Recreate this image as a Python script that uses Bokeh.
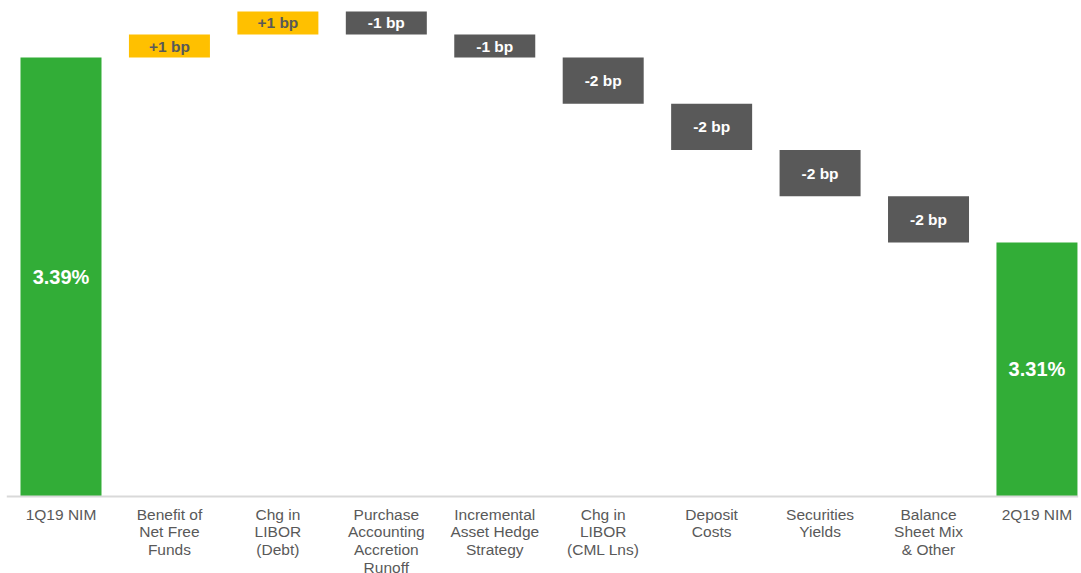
from bokeh.plotting import figure
from bokeh.models import Range1d, ColumnDataSource
from bokeh.core.properties import value
from bokeh.embed import file_html
from bokeh.resources import INLINE

# ---- data ----
categories = ["1Q19 NIM", "Benefit of\nNet Free\nFunds", "Chg in\nLIBOR\n(Debt)",
              "Purchase\nAccounting\nAccretion\nRunoff", "Incremental\nAsset Hedge\nStrategy",
              "Chg in\nLIBOR\n(CML Lns)", "Deposit\nCosts", "Securities\nYields",
              "Balance\nSheet Mix\n& Other", "2Q19 NIM"]
start_nim = 3.39
end_nim = 3.31
changes_bp = [1, 1, -1, -1, -2, -2, -2, -2]
axis_base = 3.20

GREEN = "#32AD37"
YELLOW = "#FFC000"
GRAY = "#595959"

W, H = 1081, 573
base_px = 496
scale = 2310.0  # px per 1 percentage point
step_px = 108.44
first_center_px = 60.5

x0 = -first_center_px / step_px
x1 = x0 + W / step_px
y1 = axis_base + base_px / scale
y0 = axis_base - (H - base_px) / scale

p = figure(width=W, height=H, output_backend="svg", toolbar_location=None,
           x_range=Range1d(x0, x1), y_range=Range1d(y0, y1),
           min_border=0, min_border_left=0, min_border_right=0,
           min_border_top=0, min_border_bottom=0)
p.axis.visible = False
p.grid.visible = False
p.outline_line_color = None
p.background_fill_color = "white"
p.border_fill_color = "white"

# totals
n = len(categories)
bw = 81 / step_px
p.vbar(x=[0, n - 1], bottom=axis_base, top=[start_nim, end_nim], width=bw,
       fill_color=GREEN, line_color=None)

# steps
xs, bots, tops, cols, labs, lab_cols, mids = [], [], [], [], [], [], []
level = start_nim
for i, d in enumerate(changes_bp):
    new = level + d / 100.0
    xs.append(i + 1)
    bots.append(min(level, new))
    tops.append(max(level, new))
    cols.append(YELLOW if d > 0 else GRAY)
    labs.append(("+%d bp" % d) if d > 0 else ("%d bp" % d))
    lab_cols.append(GRAY if d > 0 else "white")
    mids.append((level + new) / 2)
    level = new

src = ColumnDataSource(dict(x=xs, bottom=bots, top=tops, color=cols, lab=labs,
                            lab_color=lab_cols, mid=mids))
p.vbar(x="x", bottom="bottom", top="top", width=bw, fill_color="color",
       line_color=None, source=src)
p.text(x="x", y="mid", text="lab", text_color="lab_color", source=src,
       text_font=value("Liberation Sans"), text_font_style="bold",
       text_font_size="15.5px", text_align="center", text_baseline="middle")

# total labels
p.text(x=[0, n - 1], y=[(axis_base + start_nim) / 2, (axis_base + end_nim) / 2],
       text=["%.2f%%" % start_nim, "%.2f%%" % end_nim], text_color="white",
       text_font=value("Liberation Sans"), text_font_style="bold",
       text_font_size="20px", text_align="center", text_baseline="middle")

# baseline
p.segment(x0=[-0.5], y0=[axis_base], x1=[n - 0.62], y1=[axis_base],
          line_color="#D9D9D9", line_width=2)

# category labels
ycat = axis_base - 9 / scale
p.text(x=list(range(n)), y=[ycat] * n, text=categories, text_color=GRAY,
       text_font=value("Liberation Sans"), text_font_size="15.5px",
       text_align="center", text_baseline="top", text_line_height=1.04)

open("out.html", "w").write(file_html(p, INLINE))
